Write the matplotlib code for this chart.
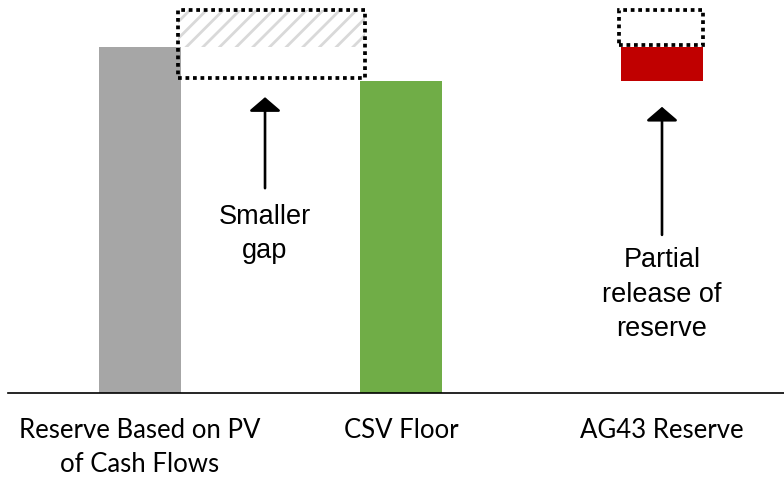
import matplotlib
matplotlib.use("Agg")
import matplotlib.pyplot as plt
from matplotlib.patches import Rectangle

categories = ["Reserve Based on PV\nof Cash Flows", "CSV Floor", "AG43 Reserve"]
pv_reserve = 100.0
csv_floor = 90.2
ag43_reserve = 100.0
prior_level = 110.7
box1_bottom = 91.0

plt.rcParams['hatch.linewidth'] = 2.0
plt.rcParams['hatch.color'] = '#d9d9d9'

fig = plt.figure(figsize=(7.84, 4.79), dpi=100)
ax = fig.add_axes([8/784, 86/479, 1 - 8/784, 393/479])

x = [0, 1, 2]
w = 0.318
ax.bar(x[0], pv_reserve, width=w, color='#a6a6a6', zorder=2)
ax.bar(x[1], csv_floor, width=w, color='#70ad47', zorder=2)
ax.bar(x[2], ag43_reserve - csv_floor, bottom=csv_floor, width=w, color='#c00000', zorder=2)

# hatched gap region between bars
gx0, gx1 = x[0] + w/2 - 0.013, x[1] - w/2 + 0.021
ax.add_patch(Rectangle((gx0, pv_reserve), gx1 - gx0, prior_level - pv_reserve,
                       facecolor='white', edgecolor='#d9d9d9', hatch='//', lw=0, zorder=1))
ax.add_patch(Rectangle((gx0, box1_bottom), gx1 - gx0, prior_level - box1_bottom,
                       fill=False, edgecolor='black', lw=2.7, linestyle=(0, (1, 1)), zorder=3))
# box above AG43
ax.add_patch(Rectangle((x[2] - w/2 - 0.006, ag43_reserve + 0.6), w + 0.006, prior_level - ag43_reserve - 0.6,
                       fill=False, edgecolor='black', lw=2.7, linestyle=(0, (1, 1)), zorder=3))

arrowprops = dict(arrowstyle='-|>,head_width=0.49,head_length=0.42', color='black', lw=1.9,
                  mutation_scale=20, shrinkA=0, shrinkB=0)
ax.annotate('', xy=(0.479, 85.5), xytext=(0.479, 59.2), arrowprops=arrowprops)
ax.annotate('', xy=(2.0, 82.7), xytext=(2.0, 45.7), arrowprops=arrowprops)

ax.text(0.479, 46.0, "Smaller\ngap", ha='center', va='center', fontsize=19.5,
        family='Liberation Sans', linespacing=1.42)
ax.text(2.0, 28.4, "Partial\nrelease of\nreserve", ha='center', va='center', fontsize=19.5,
        family='Liberation Sans', linespacing=1.42)

ax.set_xlim((8 - 140) / 261, (784 - 140) / 261)
ax.set_ylim(0, 393 / 3.46)
ax.set_xticks(x)
ax.set_xticklabels(categories, fontsize=18.5, family='Lato', linespacing=1.45)
ax.tick_params(axis='x', length=0, pad=18)
ax.set_yticks([])
for s in ['top', 'right', 'left']:
    ax.spines[s].set_visible(False)
ax.spines['bottom'].set_linewidth(1.2)

fig.savefig('out.png', dpi=100)
